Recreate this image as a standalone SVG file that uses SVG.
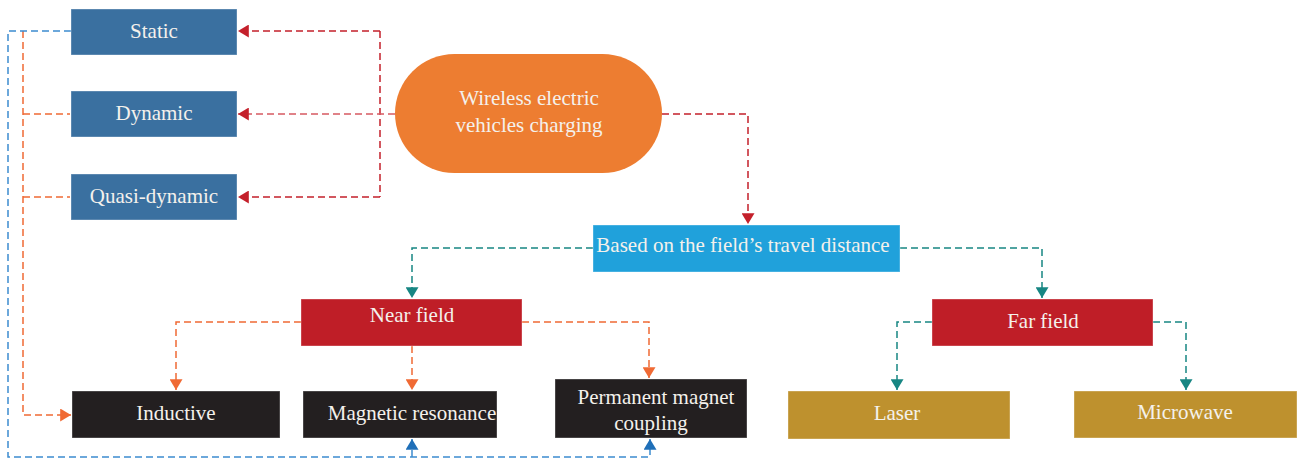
<svg xmlns="http://www.w3.org/2000/svg" width="1297" height="462" viewBox="0 0 1297 462">
  <defs>
    <style>
      .lbl { font-family: "Liberation Serif", "DejaVu Serif", serif; font-size: 21px; fill: #F4F1EC; text-anchor: middle; }
      .box { stroke-width: 1; stroke-opacity: 0.35; stroke: #ffffff; }
      .blue { fill: #3A70A0; }
      .sky { fill: #20A1DB; }
      .crimson { fill: #BF1E27; }
      .dark { fill: #231F20; }
      .gold { fill: #BE912E; }
      .pill { fill: #ED7D31; }
      .ln { fill: none; stroke-width: 1.5; stroke-dasharray: 7 4; }
      .red { stroke: #C4202B; }
      .red-soft { stroke: #D65A62; }
      .teal { stroke: #178683; }
      .orange { stroke: #F06A34; }
      .navy { stroke: #3D8CD0; }
    </style>
    <marker id="arRed" markerUnits="userSpaceOnUse" markerWidth="13" markerHeight="13" viewBox="0 0 10 12" refX="10" refY="6" orient="auto">
      <path d="M0,0 L10,6 L0,12 Z" fill="#C4202B"/>
    </marker>
    <marker id="arTeal" markerUnits="userSpaceOnUse" markerWidth="13" markerHeight="13" viewBox="0 0 10 12" refX="10" refY="6" orient="auto">
      <path d="M0,0 L10,6 L0,12 Z" fill="#178683"/>
    </marker>
    <marker id="arOrange" markerUnits="userSpaceOnUse" markerWidth="13" markerHeight="13" viewBox="0 0 10 12" refX="10" refY="6" orient="auto">
      <path d="M0,0 L10,6 L0,12 Z" fill="#F06A34"/>
    </marker>
    <marker id="arBlue" markerUnits="userSpaceOnUse" markerWidth="13" markerHeight="13" viewBox="0 0 10 12" refX="10" refY="6" orient="auto">
      <path d="M0,0 L10,6 L0,12 Z" fill="#1F6FB8"/>
    </marker>
  </defs>

  <rect width="1297" height="462" fill="#ffffff"/>

  <!-- connectors -->
  <g id="connectors">
    <!-- root to charging modes -->
    <path class="ln red" d="M380,31 V197"/>
    <path class="ln red" d="M380,31 H238" marker-end="url(#arRed)"/>
    <path class="ln red-soft" d="M395,114 H238" marker-end="url(#arRed)"/>
    <path class="ln red" d="M380,197 H238" marker-end="url(#arRed)"/>
    <!-- root to classification -->
    <path class="ln red" d="M662,114 H748 V224" marker-end="url(#arRed)"/>

    <!-- classification to field types -->
    <path class="ln teal" d="M593,248 H412 V298" marker-end="url(#arTeal)"/>
    <path class="ln teal" d="M900,248 H1042 V298" marker-end="url(#arTeal)"/>
    <!-- far field children -->
    <path class="ln teal" d="M932,322 H897 V390" marker-end="url(#arTeal)"/>
    <path class="ln teal" d="M1153,322 H1186 V390" marker-end="url(#arTeal)"/>

    <!-- near field children -->
    <path class="ln orange" d="M301,322 H176 V390" marker-end="url(#arOrange)"/>
    <path class="ln orange" d="M412,346 V390" marker-end="url(#arOrange)"/>
    <path class="ln orange" d="M522,322 H649 V378" marker-end="url(#arOrange)"/>

    <!-- dynamic / quasi-dynamic to inductive -->
    <path class="ln orange" d="M23,31 V415 H71" marker-end="url(#arOrange)"/>
    <path class="ln orange" d="M23,114 H70"/>
    <path class="ln orange" d="M23,197 H70"/>

    <!-- static to resonance and magnet coupling -->
    <path class="ln navy" d="M71,31 H8 V457 H650 V439" marker-end="url(#arBlue)"/>
    <path class="ln navy" d="M412,457 V439" marker-end="url(#arBlue)"/>
  </g>

  <!-- nodes -->
  <g id="node-root">
    <rect class="pill" x="395" y="54" width="267" height="119" rx="59.5"/>
    <text class="lbl" x="529" y="105">Wireless electric</text>
    <text class="lbl" x="529" y="132">vehicles charging</text>
  </g>

  <g id="node-static">
    <rect class="box blue" x="71" y="9" width="166" height="46"/>
    <text class="lbl" x="154" y="38">Static</text>
  </g>
  <g id="node-dynamic">
    <rect class="box blue" x="71" y="91" width="166" height="46"/>
    <text class="lbl" x="154" y="120">Dynamic</text>
  </g>
  <g id="node-quasi-dynamic">
    <rect class="box blue" x="71" y="174" width="166" height="46"/>
    <text class="lbl" x="154" y="203">Quasi-dynamic</text>
  </g>

  <g id="node-distance">
    <rect class="box sky" x="593" y="225" width="307" height="47"/>
    <text class="lbl" x="743" y="252">Based on the field’s travel distance</text>
  </g>

  <g id="node-near-field">
    <rect class="box crimson" x="301" y="299" width="221" height="47"/>
    <text class="lbl" x="412" y="322">Near field</text>
  </g>
  <g id="node-far-field">
    <rect class="box crimson" x="932" y="299" width="221" height="47"/>
    <text class="lbl" x="1043" y="328">Far field</text>
  </g>

  <g id="node-inductive">
    <rect class="box dark" x="72" y="391" width="208" height="47"/>
    <text class="lbl" x="176" y="420">Inductive</text>
  </g>
  <g id="node-magnetic-resonance">
    <rect class="box dark" x="303" y="391" width="194" height="47"/>
    <text class="lbl" x="412" y="420">Magnetic resonance</text>
  </g>
  <g id="node-permanent-magnet">
    <rect class="box dark" x="555" y="379" width="192" height="59"/>
    <text class="lbl" x="656" y="404">Permanent magnet</text>
    <text class="lbl" x="651" y="430">coupling</text>
  </g>

  <g id="node-laser">
    <rect class="box gold" x="788" y="391" width="222" height="48"/>
    <text class="lbl" x="897" y="420">Laser</text>
  </g>
  <g id="node-microwave">
    <rect class="box gold" x="1074" y="391" width="223" height="47"/>
    <text class="lbl" x="1185" y="419">Microwave</text>
  </g>
</svg>
